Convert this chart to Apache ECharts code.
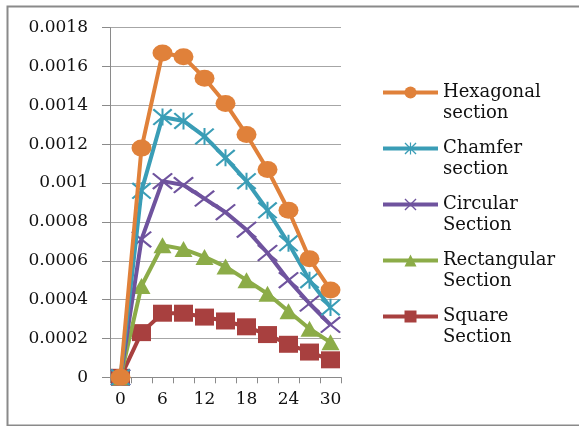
<!DOCTYPE html>
<html>
<head>
<meta charset="utf-8">
<script src="https://cdn.jsdelivr.net/npm/echarts@6/dist/echarts.min.js"></script>
<style>
html,body{margin:0;padding:0;background:#fff;}
#chart{width:579px;height:426px;}
</style>
</head>
<body>
<div id="chart"></div>
<script>
var categories = ['0','3','6','9','12','15','18','21','24','27','30'];
var seriesNames = ['Hexagonal section','Chamfer section','Circular Section','Rectangular Section','Square Section'];
var hexagonal   = [0, 0.00118, 0.00167, 0.00165, 0.00154, 0.00141, 0.00125, 0.00107, 0.00086, 0.00061, 0.00045];
var chamfer     = [0, 0.00096, 0.00134, 0.00132, 0.00124, 0.00113, 0.00101, 0.00086, 0.00069, 0.00050, 0.00036];
var circular    = [0, 0.00071, 0.00101, 0.00099, 0.00092, 0.00085, 0.00076, 0.00064, 0.00050, 0.00038, 0.00027];
var rectangular = [0, 0.00047, 0.00068, 0.00066, 0.00062, 0.00057, 0.00050, 0.00043, 0.00034, 0.00025, 0.00018];
var square      = [0, 0.00023, 0.00033, 0.00033, 0.00031, 0.00029, 0.00026, 0.00022, 0.00017, 0.00013, 0.00009];
var yMin = 0, yMax = 0.0018, yStep = 0.0002;

var colors = ['#E0813A','#3A9DB6','#6F539E','#8CAC48','#A8403F'];
var asterisk = 'path://M0,8L8,0L100,92L92,100ZM92,0L100,8L8,100L0,92ZM45,0L55,0L55,100L45,100Z';
var cross = 'path://M0,8L8,0L100,92L92,100ZM92,0L100,8L8,100L0,92Z';
var symbols = ['circle', asterisk, cross, 'triangle', 'rect'];
var sizes = [[20,17],[20,17],[21,17],[18,16],[19,17]];
var dataSets = [hexagonal, chamfer, circular, rectangular, square];
var fontFam = '"DejaVu Serif", serif';

var series = dataSets.map(function(d, i){
  return {
    name: seriesNames[i],
    type: 'line',
    data: d,
    z: 10 - i,
    symbol: symbols[i],
    symbolSize: sizes[i],
    showAllSymbol: true,
    lineStyle: {color: colors[i], width: 4},
    itemStyle: {color: colors[i], borderWidth: 0},
    emphasis: {disabled: true}
  };
});

var chart = echarts.init(document.getElementById('chart'), null, {renderer: 'canvas'});
chart.setOption({
  backgroundColor: '#fff',
  animation: false,
  color: colors,
  graphic: [{
    type: 'rect', left: 5, top: 4, z: 0, silent: true,
    shape: {width: 590, height: 419},
    style: {fill: 'none', stroke: '#8a8a8a', lineWidth: 2}
  }],
  grid: {left: 110, right: 238, top: 27.7, bottom: 48.7, containLabel: false},
  legend: {
    orient: 'vertical',
    left: 376,
    top: 56,
    itemWidth: 55,
    itemHeight: 15,
    itemGap: -7,
    data: seriesNames,
    lineStyle: {width: 4},
    formatter: function(n){ var p = n.split(' '); return '\n' + p[0] + '\n' + p[1]; },
    textStyle: {fontFamily: fontFam, fontSize: 18, color: '#111', lineHeight: 21}
  },
  xAxis: {
    type: 'category',
    data: categories,
    boundaryGap: true,
    axisLine: {lineStyle: {color: '#8a8a8a', width: 1}},
    axisTick: {show: true, interval: 0, length: 6, lineStyle: {color: '#8a8a8a'}},
    axisLabel: {interval: 1, margin: 14, fontFamily: fontFam, fontSize: 17, color: '#111'},
    splitLine: {show: false}
  },
  yAxis: {
    type: 'value',
    min: yMin, max: yMax, interval: yStep,
    axisLine: {show: true, lineStyle: {color: '#8a8a8a', width: 1}},
    axisTick: {show: true, length: 8, lineStyle: {color: '#8a8a8a'}},
    axisLabel: {margin: 22, fontFamily: fontFam, fontSize: 17, color: '#111'},
    splitLine: {show: true, lineStyle: {color: '#a6a6a6', width: 1}}
  },
  series: series
});
</script>
</body>
</html>
